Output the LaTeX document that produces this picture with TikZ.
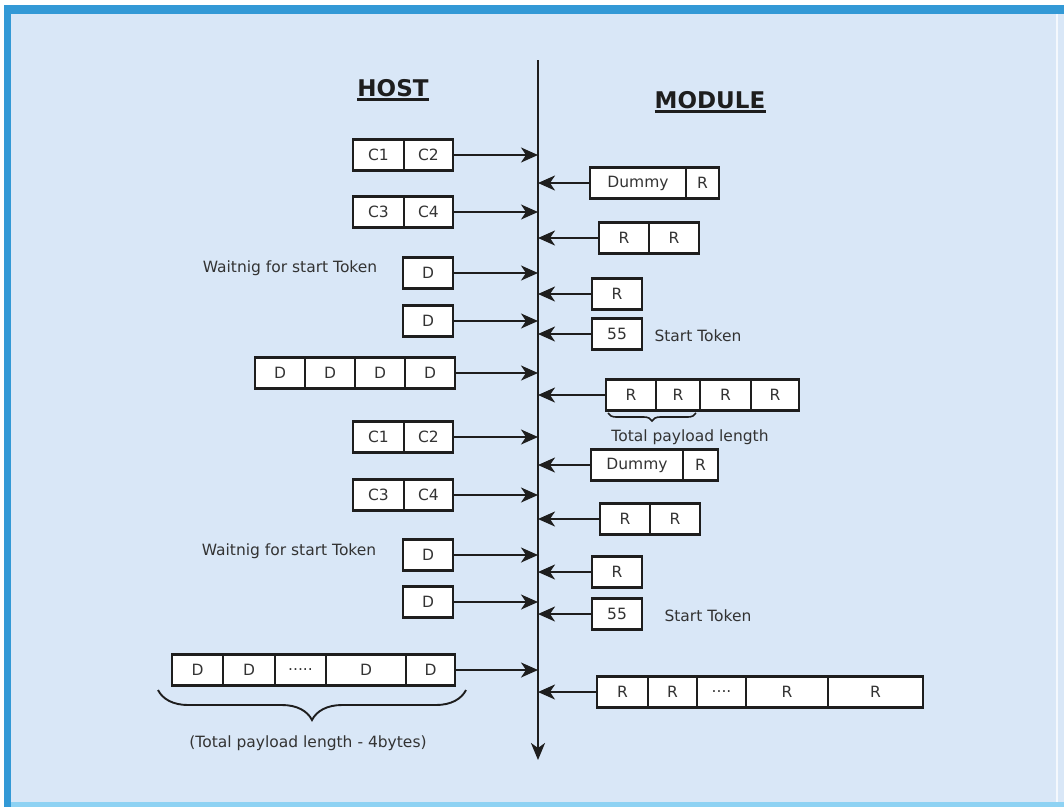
\documentclass[tikz,border=0pt]{standalone}
\usepackage{fontspec}
\setmainfont{DejaVu Sans}
\usetikzlibrary{arrows.meta,decorations.pathreplacing}
\definecolor{bgblue}{HTML}{D9E7F7}
\definecolor{barblue}{HTML}{3399D6}
\definecolor{botblue}{HTML}{8ED2F3}
\definecolor{inkc}{HTML}{1E1E1E}
\definecolor{txtc}{HTML}{333333}
\begin{document}
\begin{tikzpicture}[x=1pt,y=-1pt,
  cellbox/.style={draw=inkc,fill=white,line width=2.3pt,minimum height=31pt,inner sep=0pt,
    text=txtc,font=\fontsize{15.5}{18}\selectfont},
  lbl/.style={text=txtc,inner sep=0pt,font=\fontsize{15.5}{18}\selectfont},
  ttl/.style={text=inkc,inner sep=0pt,font=\fontsize{23}{26}\selectfont\bfseries},
  sendarrow/.style={draw=inkc,line width=2.3pt,-{Stealth[length=17pt,width=15pt,inset=5pt]}},
  bracestyle/.style={draw=inkc,line width=1.9pt,decorate},
]
\useasboundingbox (0,0) rectangle (1064,807);
% background frame
\fill[white] (0,0) rectangle (1064,807);
\fill[bgblue] (4,5) rectangle (1064,807);
\fill[barblue] (4,5) rectangle (1064,14);
\fill[barblue] (4,5) rectangle (11,807);
\fill[botblue] (11,802) rectangle (1064,807);
\fill[white!70!bgblue] (1056,14) rectangle (1058,802);

% titles
\node[ttl] (host) at (393,88) {HOST};
\draw[inkc,line width=2.8pt] ([yshift=-3pt]host.base west) -- ([yshift=-3pt]host.base east);
\node[ttl] (module) at (710,100) {MODULE};
\draw[inkc,line width=2.8pt] ([yshift=-3pt]module.base west) -- ([yshift=-3pt]module.base east);

% spine
\coordinate (top) at (538,60);
\coordinate (bot) at (538,760);
\draw[draw=inkc,line width=2.3pt,-{Stealth[length=17pt,width=14pt,inset=5pt]}] (top) -- (bot);

% ---------------- HOST side ----------------
\node[cellbox,minimum width=51pt] (h1a) at (378.5,155) {C1};
\node[cellbox,minimum width=49pt] (h1b) at (428.5,155) {C2};
\node[cellbox,minimum width=51pt] (h2a) at (378.5,212) {C3};
\node[cellbox,minimum width=49pt] (h2b) at (428.5,212) {C4};
\node[cellbox,minimum width=50pt] (h3) at (428,273) {D};
\node[lbl] (wait1) at (290,268) {Waitnig for start Token};
\node[cellbox,minimum width=50pt] (h4) at (428,321) {D};
\node[cellbox,minimum width=50pt] (h5a) at (280,373) {D};
\node[cellbox,minimum width=50pt] (h5b) at (330,373) {D};
\node[cellbox,minimum width=50pt] (h5c) at (380,373) {D};
\node[cellbox,minimum width=50pt] (h5d) at (430,373) {D};
\node[cellbox,minimum width=51pt] (h6a) at (378.5,437) {C1};
\node[cellbox,minimum width=49pt] (h6b) at (428.5,437) {C2};
\node[cellbox,minimum width=51pt] (h7a) at (378.5,495) {C3};
\node[cellbox,minimum width=49pt] (h7b) at (428.5,495) {C4};
\node[cellbox,minimum width=50pt] (h8) at (428,555) {D};
\node[lbl] (wait2) at (289,551) {Waitnig for start Token};
\node[cellbox,minimum width=50pt] (h9) at (428,602) {D};
\node[cellbox,minimum width=51pt] (h10a) at (197.5,670) {D};
\node[cellbox,minimum width=52pt] (h10b) at (249,670) {D};
\node[cellbox,minimum width=51pt] (h10c) at (300.5,670) {.....};
\node[cellbox,minimum width=80pt] (h10d) at (366,670) {D};
\node[cellbox,minimum width=49pt] (h10e) at (430.5,670) {D};

\coordinate (s1) at (538,155);
\coordinate (s2) at (538,212);
\coordinate (s3) at (538,273);
\coordinate (s4) at (538,321);
\coordinate (s5) at (538,373);
\coordinate (s6) at (538,437);
\coordinate (s7) at (538,495);
\coordinate (s8) at (538,555);
\coordinate (s9) at (538,602);
\coordinate (s10) at (538,670);
\draw[sendarrow] (h1b.east) -- (s1);
\draw[sendarrow] (h2b.east) -- (s2);
\draw[sendarrow] (h3.east) -- (s3);
\draw[sendarrow] (h4.east) -- (s4);
\draw[sendarrow] (h5d.east) -- (s5);
\draw[sendarrow] (h6b.east) -- (s6);
\draw[sendarrow] (h7b.east) -- (s7);
\draw[sendarrow] (h8.east) -- (s8);
\draw[sendarrow] (h9.east) -- (s9);
\draw[sendarrow] (h10e.east) -- (s10);

\coordinate (bl) at (158,690);
\coordinate (br) at (466,690);
\draw[bracestyle,decoration={brace,mirror,amplitude=30pt,aspect=0.5}] (bl) -- (br);
\node[lbl] (payload2) at (308,743) {(Total payload length - 4bytes)};

% ---------------- MODULE side ----------------
\node[cellbox,minimum width=96pt] (m1a) at (638,183) {Dummy};
\node[cellbox,minimum width=33pt] (m1b) at (702.5,183) {R};
\node[cellbox,minimum width=50pt] (m2a) at (624,238) {R};
\node[cellbox,minimum width=50pt] (m2b) at (674,238) {R};
\node[cellbox,minimum width=50pt] (m3) at (617,294) {R};
\node[cellbox,minimum width=50pt] (m4) at (617,334) {55};
\node[lbl] (st1) at (698,336) {Start Token};
\node[cellbox,minimum width=50pt] (m5a) at (631,395) {R};
\node[cellbox,minimum width=44pt] (m5b) at (678,395) {R};
\node[cellbox,minimum width=51pt] (m5c) at (725.5,395) {R};
\node[cellbox,minimum width=48pt] (m5d) at (775,395) {R};
\coordinate (tl) at (608,413);
\coordinate (tr) at (696,413);
\draw[bracestyle,line width=1.6pt,decoration={brace,mirror,amplitude=8pt,aspect=0.5}] (tl) -- (tr);
\node[lbl] (payload1) at (690,437) {Total payload length};
\node[cellbox,minimum width=92pt] (m6a) at (637,465) {Dummy};
\node[cellbox,minimum width=35pt] (m6b) at (700.5,465) {R};
\node[cellbox,minimum width=50pt] (m7a) at (625,519) {R};
\node[cellbox,minimum width=50pt] (m7b) at (675,519) {R};
\node[cellbox,minimum width=50pt] (m8) at (617,572) {R};
\node[cellbox,minimum width=50pt] (m9) at (617,614) {55};
\node[lbl] (st2) at (708,616) {Start Token};
\node[cellbox,minimum width=51pt] (m10a) at (622.5,692) {R};
\node[cellbox,minimum width=49pt] (m10b) at (672.5,692) {R};
\node[cellbox,minimum width=49pt] (m10c) at (721.5,692) {....};
\node[cellbox,minimum width=82pt] (m10d) at (787,692) {R};
\node[cellbox,minimum width=95pt] (m10e) at (875.5,692) {R};

\coordinate (r1) at (538,183);
\coordinate (r2) at (538,238);
\coordinate (r3) at (538,294);
\coordinate (r4) at (538,334);
\coordinate (r5) at (538,395);
\coordinate (r6) at (538,465);
\coordinate (r7) at (538,519);
\coordinate (r8) at (538,572);
\coordinate (r9) at (538,614);
\coordinate (r10) at (538,692);
\draw[sendarrow] (m1a.west) -- (r1);
\draw[sendarrow] (m2a.west) -- (r2);
\draw[sendarrow] (m3.west) -- (r3);
\draw[sendarrow] (m4.west) -- (r4);
\draw[sendarrow] (m5a.west) -- (r5);
\draw[sendarrow] (m6a.west) -- (r6);
\draw[sendarrow] (m7a.west) -- (r7);
\draw[sendarrow] (m8.west) -- (r8);
\draw[sendarrow] (m9.west) -- (r9);
\draw[sendarrow] (m10a.west) -- (r10);
\end{tikzpicture}
\end{document}
